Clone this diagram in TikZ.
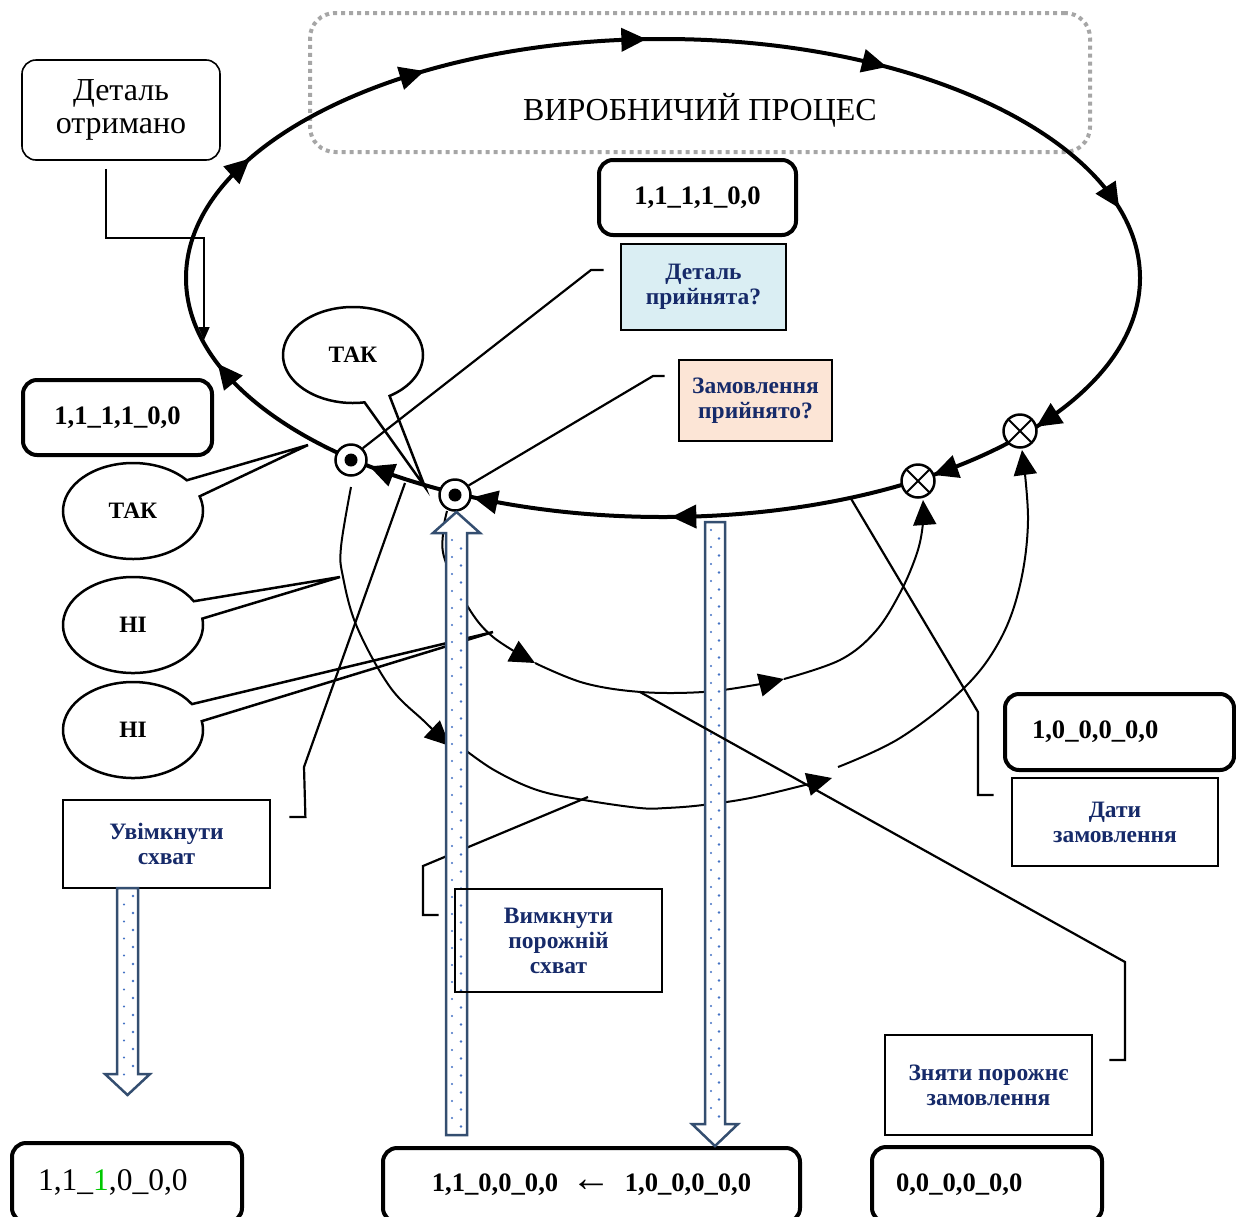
\documentclass[tikz,border=0pt]{standalone}
\usepackage{fontspec}
\setmainfont{Liberation Serif}
\usetikzlibrary{arrows.meta,shapes.callouts,shapes.geometric,calc,backgrounds}
\definecolor{navy}{RGB}{22,42,105}
\definecolor{blfill}{RGB}{218,238,243}
\definecolor{pfill}{RGB}{252,229,214}
\definecolor{barr}{RGB}{52,78,112}
\definecolor{dotb}{RGB}{68,114,196}
\definecolor{greenone}{RGB}{0,200,0}
\begin{document}
\begin{tikzpicture}[x=1pt,y=-1pt,
  mainline/.style={line width=4pt},
  bigtip/.style={-{Triangle[length=25pt,width=23pt]}},
  smalltip/.style={-{Triangle[length=13pt,width=11pt]}},
  thinline/.style={line width=2pt},
  conn/.style={line width=2.2pt},
  rbox/.style={draw, line width=4pt, rounded corners=14pt, inner sep=0pt},
  numtxt/.style={font=\fontsize{26.6}{30}\selectfont\bfseries},
  qbox/.style={draw, line width=2.8pt, inner sep=0pt, font=\fontsize{23.5}{25}\selectfont\bfseries, text=navy, align=center},
  call/.style={ellipse callout, draw, fill=white, line width=2.5pt, minimum width=140pt, minimum height=96pt, inner sep=0pt, callout pointer arc=22, font=\fontsize{23.5}{25}\selectfont\bfseries},
  dotc/.style={circle, draw, fill=white, line width=2.5pt, minimum size=31pt, inner sep=0pt, path picture={\fill[black] (path picture bounding box.center) circle[radius=6.5pt];}},
  crossc/.style={circle, draw, fill=white, line width=2.5pt, minimum size=33pt, inner sep=0pt, path picture={\draw[black, line width=2pt] (path picture bounding box.south west) -- (path picture bounding box.north east) (path picture bounding box.north west) -- (path picture bounding box.south east);}},
  blockarr/.style={draw=barr, fill=white, line width=2.5pt, line join=miter}
]
\useasboundingbox (0,0) rectangle (1236,1216);

% process frame
\node[draw=gray!70, line width=4pt, dash pattern=on 4pt off 4pt, rounded corners=25pt, minimum width=780pt, minimum height=139pt] (frame) at (700,82.5) {};
\node[font=\fontsize{32}{35}\selectfont] (proc) at (700,110) {ВИРОБНИЧИЙ ПРОЦЕС};

% callouts
\node[call, callout absolute pointer={(425,487)}] (tak1) at (353,355) {ТАК};
\node[call, callout absolute pointer={(308,445)}] (tak2) at (133,511) {ТАК};
\node[call, callout absolute pointer={(340,577)}] (ni1) at (133,625) {НІ};
\node[call, callout absolute pointer={(493,632)}] (ni2) at (133,730) {НІ};

% main cycle
\draw[mainline] (663,278) ellipse [x radius=477, y radius=239];
\foreach \t in {210,240,268,298,343,38.5,55.5,89,113.5,128,159} {
  \draw[mainline, bigtip] ({663+477*cos(\t-2)},{278+239*sin(\t-2)}) -- ({663+477*cos(\t)},{278+239*sin(\t)});
}
\node[dotc] (d1) at (351,460) {};
\node[dotc] (d2) at (455,495) {};
\node[crossc] (c1) at (918,481) {};
\node[crossc] (c2) at (1020,431) {};

% end points on curves
\coordinate (eUv) at (405,483);
\coordinate (eVy) at (588,797);
\coordinate (eDa) at (850,497);
\coordinate (eZn) at (640,692);
\coordinate (eDet) at (204,340);

% thin loops
\draw[thinline, bigtip] plot[smooth, tension=0.6] coordinates {(447,511) (443,533) (445,560) (468,607) (493,637) (535,663)};
\draw[thinline, bigtip] plot[smooth, tension=0.6] coordinates {(535,663) (584,683) (641,692) (703,692) (755,685) (784,679)};
\draw[thinline, bigtip] plot[smooth, tension=0.6] coordinates {(784,679) (840,660) (875,632) (900,593) (917,553) (923,523) (923,500)};
\draw[thinline, bigtip] plot[smooth, tension=0.6] coordinates {(351,487) (341,547) (343,577) (357,627) (390,687) (425,722) (450,746)};
\draw[thinline, bigtip] plot[smooth, tension=0.6] coordinates {(460,746) (494,770) (537,790) (584,800) (640,808) (666,808) (703,805) (755,797) (832,778)};
\draw[thinline, bigtip] plot[smooth, tension=0.6] coordinates {(838,767) (900,738) (964,688) (1000,640) (1020,585) (1028,520) (1022,450)};

% boxes
\node[rbox, line width=1.6pt, minimum width=198pt, minimum height=100pt, font=\fontsize{32}{33}\selectfont, align=center] (det) at (121,110) {Деталь\\отримано};
\node[rbox, numtxt, minimum width=197pt, minimum height=75pt, fill=white] (tb) at (697.5,197.5) {1,1\_1,1\_0,0};
\node[qbox, fill=blfill, minimum width=165pt, minimum height=86pt] (qd) at (703.5,287) {Деталь\\прийнята?};
\node[qbox, fill=pfill, minimum width=153pt, minimum height=81pt] (qz) at (755.5,400.5) {Замовлення\\прийнято?};
\node[rbox, numtxt, minimum width=189pt, minimum height=75pt] (lb) at (117.5,417.5) {1,1\_1,1\_0,0};
\node[qbox, fill=white, minimum width=207pt, minimum height=88pt] (uv) at (166.5,844) {Увімкнути\\схват};
\node[qbox, fill=white, minimum width=206pt, minimum height=88pt] (da) at (1115,822) {Дати\\замовлення};
\node[rbox, numtxt, minimum width=229pt, minimum height=76pt, text width=175pt, align=left] (r1) at (1119.5,732) {1,0\_0,0\_0,0};
\node[qbox, fill=white, minimum width=207pt, minimum height=100pt] (zn) at (988.5,1085) {Зняти порожнє\\замовлення};
\node[rbox, numtxt, minimum width=230pt, minimum height=75pt, text width=182pt, align=left] (b0) at (987,1184.5) {0,0\_0,0\_0,0};
\node[rbox, numtxt, minimum width=417pt, minimum height=74pt] (bm) at (591.5,1185) {1,1\_0,0\_0,0 \ {\fontsize{40}{30}\selectfont\mdseries ←} \ 1,0\_0,0\_0,0};
\node[rbox, minimum width=230pt, minimum height=79pt, text width=178pt, align=left, font=\fontsize{31.5}{33}\selectfont] (bl) at (127,1182.5) {1,1\_{\color{greenone}1},0\_0,0};

% connectors
\draw[line width=1.6pt, smalltip] ($(det.south)+(-15,8)$) |- (204,238) -- (eDet);
\draw[conn] ($(qd.west)+(-16,-17)$) -- (591,270) -- (d1.45);
\draw[conn] ($(qz.west)+(-13,-24.5)$) -- (653,376) -- (d2.35);
\draw[conn] ($(uv.east)+(18,-27)$) -- ++(16,0) -- (304,767) -- (eUv);
\draw[conn] ($(da.west)+(-17,-27)$) -- (978,795) -- (978,712) -- (eDa);

% block arrows
\draw[blockarr] (446,1135) -- (446,533) -- (433,533) -- (456.5,512) -- (480,533) -- (467,533) -- (467,1135) -- cycle;
\foreach \y in {540,557,...,1125} {\fill[dotb] (452,\y) circle[radius=1.1pt]; \fill[dotb] (461,\y+8.5) circle[radius=1.4pt];}
\draw[blockarr] (705,522) -- (705,1124) -- (692,1124) -- (715,1146) -- (738,1124) -- (725,1124) -- (725,522) -- cycle;
\foreach \y in {530,547,...,1118} {\fill[dotb] (711,\y) circle[radius=1.1pt]; \fill[dotb] (719,\y+8.5) circle[radius=1.4pt];}
\draw[blockarr] (117,888) -- (117,1074) -- (105,1074) -- (127.5,1095) -- (150,1074) -- (138,1074) -- (138,888) -- cycle;
\foreach \y in {896,913,...,1080} {\fill[dotb] (124,\y+8.5) circle[radius=1.1pt]; \fill[dotb] (133,\y) circle[radius=1.4pt];}

% box over block A
\node[qbox, minimum width=207pt, minimum height=103pt] (vy) at (558.5,940.5) {Вимкнути\\порожній\\схват};
\begin{scope}[on background layer]
\draw[conn] ($(vy.west)+(-15,-25.5)$) -- (423,915) -- (423,866) -- (eVy);
\end{scope}
\draw[conn] ($(zn.east)+(16,-25)$) -- (1125,1060) -- (1125,962) -- (eZn);
\end{tikzpicture}
\end{document}
